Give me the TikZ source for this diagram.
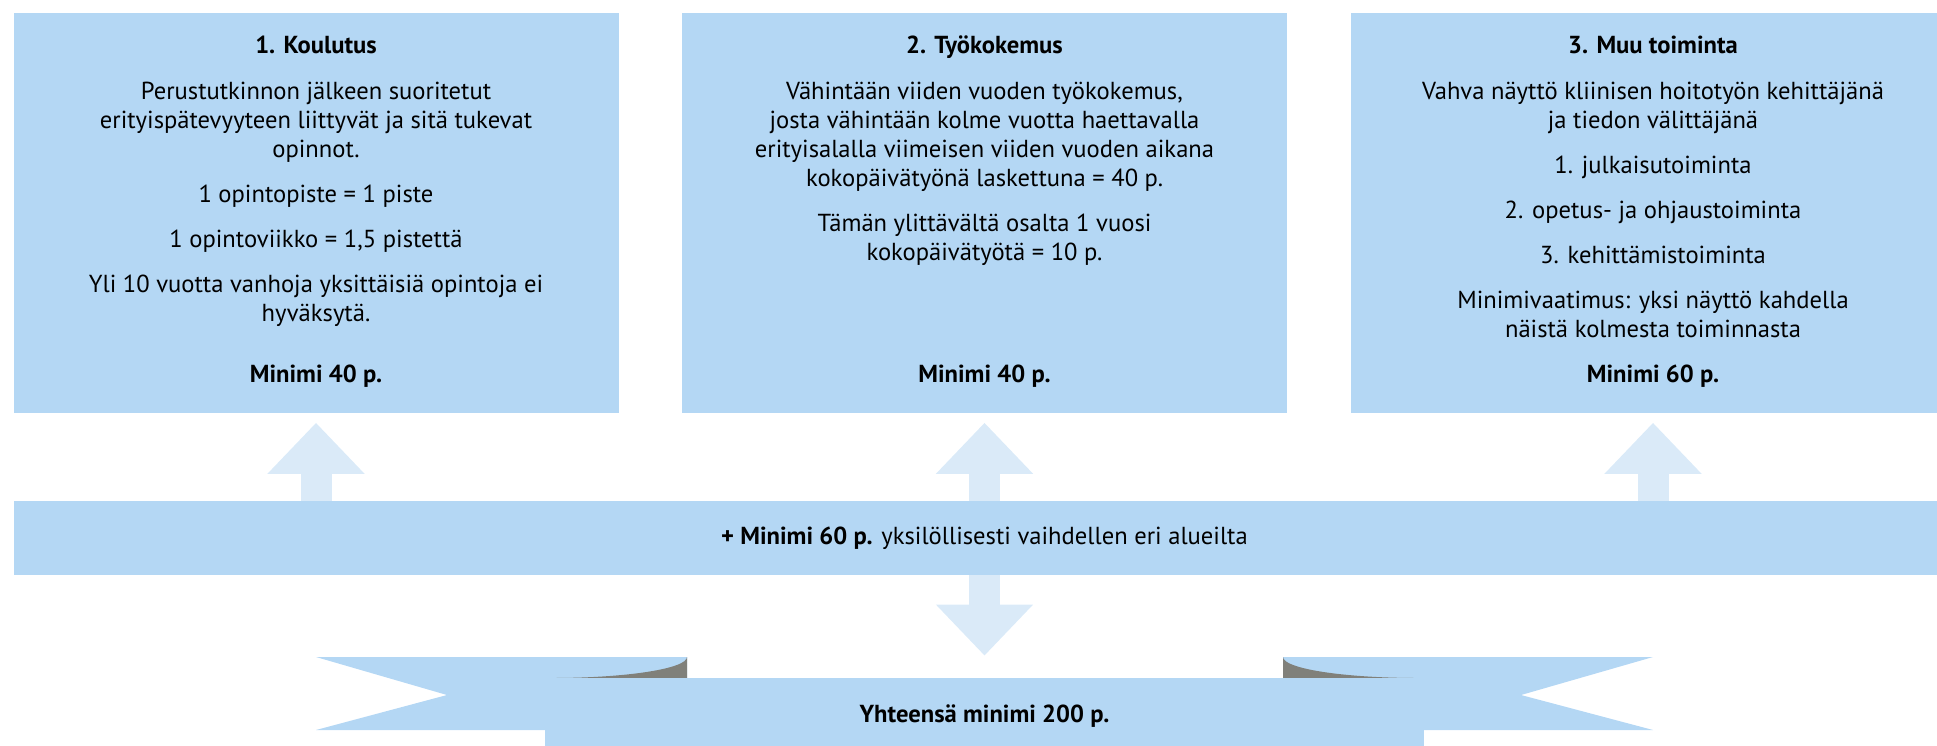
\documentclass[tikz,border=0pt]{standalone}
\usepackage{fontspec}
\setmainfont{PT Sans}
\usetikzlibrary{arrows.meta,positioning}
\definecolor{boxblue}{RGB}{180,215,244}
\definecolor{arrowblue}{RGB}{218,234,248}
\definecolor{foldgray}{RGB}{128,128,122}
\tikzset{
  infobox/.style={fill=boxblue, minimum width=302.5pt, minimum height=200.3pt, inner sep=0pt, anchor=north},
  infotext/.style={align=center, inner sep=0pt, anchor=north, font=\fontsize{12.3}{14.5}\selectfont},
  mintext/.style={inner sep=0pt, anchor=base, font=\fontsize{12.3}{14.5}\selectfont\bfseries},
  barbox/.style={fill=boxblue, minimum width=970.95pt, minimum height=37pt, inner sep=0pt, font=\fontsize{12.3}{14.5}\selectfont},
  bandbox/.style={fill=boxblue, minimum width=439.5pt, minimum height=38pt, inner sep=0pt, font=\fontsize{12.3}{14.5}\selectfont\bfseries},
  blockarrow/.style={draw=arrowblue, line width=15.5pt, -{Triangle[width=47pt,length=25.5pt,fill=arrowblue]}},
}
\begin{document}
\begin{tikzpicture}
\useasboundingbox (0pt,0pt) rectangle (968.5pt,-372.5pt);
\node[infobox] (koulutus) at (158pt,-6.2pt) {};
\node[infobox] (tyokokemus) at (492.25pt,-6.2pt) {};
\node[infobox] (muu) at (826.5pt,-6.2pt) {};
\node[infotext] (koulutus-text) at ([yshift=-11.1pt]koulutus.north) {\rule{0pt}{9pt}\textbf{1. Koulutus}\\[8.5pt]
  Perustutkinnon jälkeen suoritetut\\ erityispätevyyteen liittyvät ja sitä tukevat\\ opinnot.\\[8pt]
  1 opintopiste = 1 piste\\[8pt]
  1 opintoviikko = 1,5 pistettä\\[8pt]
  Yli 10 vuotta vanhoja yksittäisiä opintoja ei\\ hyväksytä.};
\node[infotext] (tyokokemus-text) at ([yshift=-11.1pt]tyokokemus.north) {\rule{0pt}{9pt}\textbf{2. Työkokemus}\\[8.5pt]
  Vähintään viiden vuoden työkokemus,\\ josta vähintään kolme vuotta haettavalla\\ erityisalalla viimeisen viiden vuoden aikana\\ kokopäivätyönä laskettuna = 40 p.\\[8pt]
  Tämän ylittävältä osalta 1 vuosi\\ kokopäivätyötä = 10 p.};
\node[infotext] (muu-text) at ([yshift=-11.1pt]muu.north) {\rule{0pt}{9pt}\textbf{3. Muu toiminta}\\[8.5pt]
  Vahva näyttö kliinisen hoitotyön kehittäjänä\\ ja tiedon välittäjänä\\[8pt]
  1. julkaisutoiminta\\[8pt]
  2. opetus- ja ohjaustoiminta\\[8pt]
  3. kehittämistoiminta\\[8pt]
  Minimivaatimus: yksi näyttö kahdella\\ näistä kolmesta toiminnasta};
\node[mintext] (koulutus-min) at ([yshift=15.7pt]koulutus.south) {Minimi 40 p.};
\node[mintext] (tyokokemus-min) at ([yshift=15.7pt]tyokokemus.south) {Minimi 40 p.};
\node[mintext] (muu-min) at ([yshift=15.7pt]muu.south) {Minimi 60 p.};
\node[barbox] (lisa) at (492.25pt,-269pt) {\textbf{+ Minimi 60 p.} yksilöllisesti vaihdellen eri alueilta};
\draw[blockarrow, shorten >=4.5pt] (lisa.north -| koulutus.south) -- (koulutus.south);
\draw[blockarrow, shorten >=4.5pt] (lisa.north -| tyokokemus.south) -- (tyokokemus.south);
\draw[blockarrow, shorten >=4.5pt] (lisa.north -| muu.south) -- (muu.south);
\fill[boxblue] (158pt,-328.5pt) -- (343.5pt,-328.5pt) -- (343.5pt,-365pt) -- (158pt,-365pt) -- (223.5pt,-347.5pt) -- cycle;
\fill[boxblue] (826.5pt,-328.5pt) -- (641.5pt,-328.5pt) -- (641.5pt,-365pt) -- (826.5pt,-365pt) -- (760.5pt,-347.5pt) -- cycle;
\fill[foldgray] (343.5pt,-328.5pt) arc[start angle=0, end angle=-90, x radius=67.5pt, y radius=10.5pt] -- (343.5pt,-339pt) -- cycle;
\fill[foldgray] (641.5pt,-328.5pt) arc[start angle=180, end angle=270, x radius=67.5pt, y radius=10.5pt] -- (641.5pt,-339pt) -- cycle;
\node[bandbox] (yhteensa) at (492.25pt,-358pt) {Yhteensä minimi 200 p.};
\draw[blockarrow, shorten >=11pt] (lisa.south) -- (yhteensa.north);
\end{tikzpicture}
\end{document}
